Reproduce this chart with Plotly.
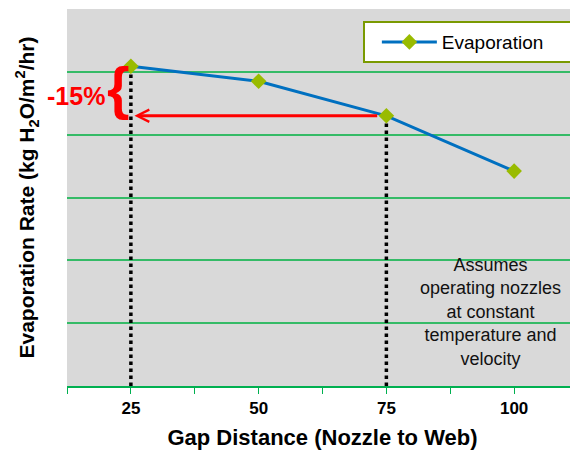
import plotly.graph_objects as go

gap = [25, 50, 75, 100]
evap = [50.9, 48.5, 43.0, 34.2]
tick_labels = ["25", "50", "75", "100"]
series_name = "Evaporation"
note = "Assumes<br>operating nozzles<br>at constant<br>temperature and<br>velocity"
pct_label = "-15%"

FONT = "Liberation Sans, Arial"
GREEN_GRID = "#35bb67"
RED = "#ff0000"

fig = go.Figure()

fig.add_trace(go.Scatter(
    x=gap, y=evap, name=series_name, mode="lines+markers",
    line=dict(color="#0070c0", width=3),
    marker=dict(symbol="diamond", size=12, color="#99bb00"),
))

# dotted drop lines from the 25 and 75 points
for xi, yi in [(gap[0], evap[0]), (gap[2], evap[2])]:
    fig.add_shape(type="line", xref="x", yref="y", x0=xi, x1=xi, y0=0, y1=yi,
                  line=dict(color="black", width=3.5, dash="dot"), layer="between")

# red arrow from 75 point back to 25 line
fig.add_annotation(x=gap[0] + 0.7, y=evap[2], ax=gap[2] - 1.5, ay=evap[2],
                   xref="x", yref="y", axref="x", ayref="y", text="",
                   showarrow=True, arrowhead=5, arrowsize=0.8, arrowwidth=3,
                   arrowcolor=RED)

# brace
fig.add_annotation(x=22.5, y=(evap[0] + evap[2]) / 2 + 0.6, xref="x", yref="y",
                   text="{", showarrow=False,
                   font=dict(family=FONT, size=58, color=RED, weight="bold"))

# -15% label
fig.add_annotation(x=0.018, y=0.77, xref="paper", yref="paper",
                   xanchor="center", yanchor="middle",
                   text=pct_label, showarrow=False,
                   font=dict(family=FONT, size=25, color=RED, weight="bold"))

# note
fig.add_annotation(x=95.4, y=11.8, xref="x", yref="y", text=note,
                   showarrow=False, align="center",
                   font=dict(family=FONT, size=18, color="#111111"))

fig.update_layout(
    width=570, height=444,
    margin=dict(l=59, r=0, t=1, b=66, autoexpand=False),
    paper_bgcolor="white", plot_bgcolor="#d9d9d9",
    font=dict(family=FONT, color="black"),
    showlegend=True,
    legend=dict(x=0.579, y=0.968, xanchor="left", yanchor="top",
                bgcolor="white", bordercolor="#7a9a01", borderwidth=2,
                font=dict(size=19), itemwidth=55, indentation=12,
                orientation="h", entrywidth=132),
    xaxis=dict(range=[12.5, 112.5], tickvals=gap, ticktext=tick_labels,
               automargin=False,
               showgrid=False, zeroline=False,
               showline=True, linecolor="#00b050", linewidth=2,
               ticks="outside", ticklen=6, tickcolor="#00b050", tickwidth=1,
               minor=dict(tick0=12.5, dtick=12.5, ticks="outside", ticklen=6,
                          tickcolor="#00b050", showgrid=False),
               ticklabelstandoff=0,
               tickfont=dict(size=17, family=FONT, weight="bold", color="black"),
               title=dict(text="Gap Distance (Nozzle to Web)",
                          font=dict(size=22, weight="bold"), standoff=12)),
    yaxis=dict(range=[0, 60], dtick=10, showticklabels=False,
               automargin=False,
               showgrid=True, gridcolor=GREEN_GRID, gridwidth=1.5,
               zeroline=False, showline=False,
               title=dict(text="Evaporation Rate (kg H<sub>2</sub>O/m<sup>2</sup>/hr)",
                          font=dict(size=21, weight="bold"), standoff=25)),
)

fig.write_html("out.html")
